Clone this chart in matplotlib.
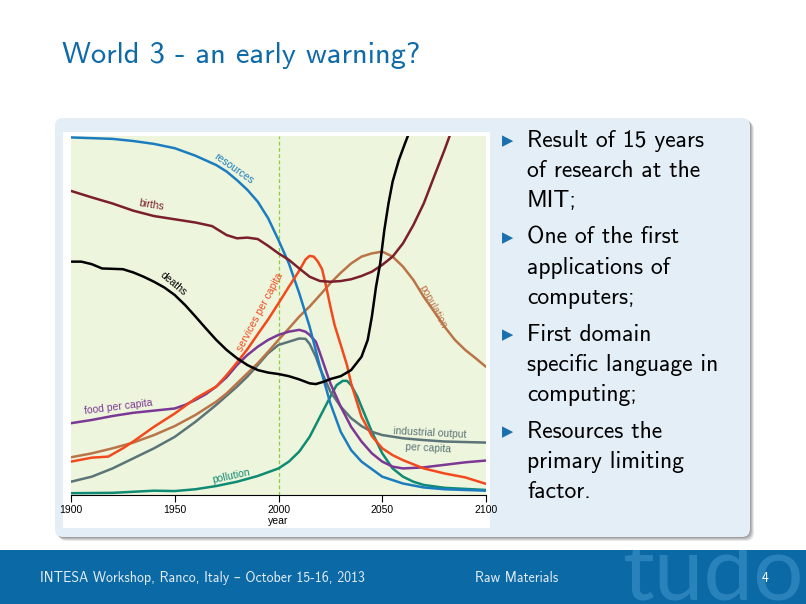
import matplotlib
matplotlib.use("Agg")
import matplotlib.pyplot as plt
from matplotlib.patches import FancyBboxPatch, Rectangle

# ---------------- data (values on 0-100 scale) ----------------
res_years = [1900, 1910, 1920, 1930, 1940, 1950, 1960, 1970, 1975, 1980, 1985, 1990, 1995, 2000,
             2005, 2010, 2015, 2020, 2025, 2030, 2035, 2040, 2050, 2060, 2070, 2080, 2100]
res_vals = [99.6, 99.4, 99.2, 98.6, 97.8, 96.6, 94.5, 91.9, 90.1, 87.7, 85.0, 81.7, 77.1, 71.0,
            64.5, 56.2, 46.9, 35.7, 25.5, 17.6, 12.5, 9.3, 5.1, 3.2, 2.1, 1.6, 1.2]

birth_years = [1900, 1910, 1920, 1930, 1940, 1950, 1960, 1968, 1975, 1980, 1985, 1990, 1995, 2000,
               2005, 2010, 2015, 2020, 2025, 2030, 2035, 2040, 2045, 2050, 2055, 2060, 2065, 2070,
               2075, 2080, 2085]
birth_vals = [84.7, 82.9, 81.2, 79.2, 77.7, 76.8, 75.9, 74.9, 72.4, 71.5, 71.7, 71.3, 69.4, 67.3,
              65.5, 63.1, 60.8, 59.6, 59.4, 59.6, 60.1, 61.0, 62.2, 64.1, 66.4, 70.1, 75.2, 81.2,
              88.7, 96.1, 104.0]

death_years = [1900, 1905, 1910, 1915, 1920, 1925, 1930, 1935, 1940, 1945, 1950, 1955, 1960, 1965,
               1970, 1975, 1980, 1985, 1990, 1995, 2000, 2005, 2010, 2015, 2018, 2022, 2025, 2030,
               2035, 2040, 2043, 2045, 2047, 2049, 2051, 2053, 2055, 2058, 2061, 2065]
death_vals = [65.0, 65.0, 64.3, 63.1, 63.0, 62.9, 62.0, 60.8, 59.4, 57.8, 55.7, 52.9, 49.7, 46.4,
              43.2, 40.4, 38.1, 36.2, 34.8, 34.1, 33.7, 33.1, 32.2, 31.1, 30.9, 31.6, 32.3, 33.1,
              34.8, 38.5, 43.2, 49.7, 58.0, 64.5, 73.8, 81.2, 87.3, 93.3, 98.0, 104.0]

serv_years = [1900, 1910, 1918, 1925, 1930, 1940, 1950, 1960, 1970, 1975, 1980, 1985, 1990, 1995,
              2000, 2005, 2010, 2013, 2015, 2017, 2019, 2021, 2023, 2025, 2027, 2030, 2033, 2035,
              2038, 2040, 2043, 2045, 2050, 2055, 2060, 2070, 2080, 2090, 2100]
serv_vals = [9.3, 10.4, 10.7, 13.0, 14.9, 19.0, 22.7, 26.9, 30.2, 33.4, 36.9, 40.6, 44.8, 48.9,
             53.4, 58.0, 62.5, 65.6, 66.6, 66.4, 65.0, 62.9, 58.0, 52.5, 47.4, 41.8, 36.2, 31.1,
             25.5, 21.8, 18.6, 16.4, 13.0, 11.1, 9.7, 7.4, 6.0, 4.9, 3.1]

pop_years = [1900, 1910, 1920, 1930, 1940, 1950, 1960, 1970, 1975, 1980, 1985, 1990, 1995, 2000,
             2005, 2010, 2015, 2020, 2025, 2030, 2035, 2040, 2045, 2050, 2055, 2060, 2065, 2070,
             2075, 2080, 2085, 2090, 2095, 2100]
pop_vals = [10.5, 11.6, 13.0, 14.6, 16.7, 19.2, 22.3, 26.0, 28.3, 31.1, 33.9, 36.7, 39.9, 43.2,
            46.4, 49.7, 52.5, 55.7, 59.0, 61.9, 64.5, 66.4, 67.3, 67.8, 66.4, 63.6, 59.9, 55.2,
            51.1, 46.9, 43.2, 40.4, 38.1, 35.7]

food_years = [1900, 1910, 1920, 1930, 1940, 1950, 1955, 1960, 1965, 1970, 1975, 1980, 1985, 1990,
              1995, 2000, 2005, 2010, 2013, 2015, 2018, 2020, 2025, 2030, 2035, 2040, 2045, 2050,
              2055, 2060, 2070, 2080, 2090, 2100]
food_vals = [20.0, 20.9, 22.0, 22.9, 23.5, 24.1, 25.1, 26.5, 28.1, 30.2, 32.8, 36.2, 39.0, 41.3,
             43.2, 44.6, 45.5, 46.0, 45.5, 44.6, 42.7, 39.5, 31.1, 24.6, 19.0, 14.9, 11.6, 9.3,
             7.9, 7.4, 7.7, 8.4, 9.1, 9.6]

ind_years = [1900, 1910, 1920, 1930, 1940, 1950, 1960, 1970, 1980, 1985, 1990, 1995, 2000, 2005,
             2010, 2013, 2015, 2018, 2020, 2025, 2030, 2035, 2040, 2045, 2050, 2060, 2070, 2080, 2100]
ind_vals = [3.7, 5.1, 7.4, 10.2, 13.0, 16.2, 20.4, 25.1, 30.2, 33.0, 36.2, 39.5, 41.8, 42.7,
            43.6, 43.5, 42.1, 38.5, 35.3, 28.8, 24.6, 21.4, 19.2, 17.6, 16.7, 15.8, 15.3, 14.9, 14.6]

pol_years = [1900, 1920, 1940, 1950, 1960, 1970, 1980, 1990, 2000, 2005, 2010, 2015, 2020, 2025,
             2028, 2031, 2033, 2035, 2038, 2040, 2043, 2045, 2050, 2055, 2060, 2065, 2070, 2080, 2100]
pol_vals = [0.5, 0.6, 1.2, 1.1, 1.6, 2.5, 3.7, 5.3, 7.4, 9.3, 12.1, 16.2, 21.8, 27.4,
            30.6, 31.8, 31.8, 30.6, 27.4, 24.6, 20.4, 17.6, 11.6, 7.4, 5.1, 3.7, 2.8, 2.0, 1.4]

x_ticks = [1900, 1950, 2000, 2050, 2100]
x_label = "year"
marker_year = 2000

title = "World 3 - an early warning?"
bullets = [
    ["Result of 15 years", "of research at the", "MIT;"],
    ["One of the first", "applications of", "computers;"],
    ["First domain", "specific language in", "computing;"],
    ["Resources the", "primary limiting", "factor."],
]
footer_left = "INTESA Workshop, Ranco, Italy \u2013 October 15-16, 2013"
footer_mid = "Raw Materials"
page_no = "4"
watermark = "tudor"

# ---------------- figure ----------------
W, H = 806, 604
fig = plt.figure(figsize=(W / 100, H / 100), dpi=100)
fig.patch.set_facecolor("white")

bg = fig.add_axes([0, 0, 1, 1])
bg.set_xlim(0, W)
bg.set_ylim(H, 0)
bg.axis("off")

CM = ["cmss10", "DejaVu Sans"]
BLUE = "#0b69a6"

# title
bg.text(62, 63, title, fontsize=22, family=CM, color="#0e6aa8", va="baseline", ha="left")

# block shadow
for i, a in enumerate([0.10, 0.12, 0.15, 0.18]):
    off = 4 - i
    bg.add_patch(FancyBboxPatch((55 + off, 118 + off), 695, 419,
                                boxstyle="round,pad=0,rounding_size=8",
                                fc="#303030", ec="none", alpha=a, zorder=1))
# block
bg.add_patch(FancyBboxPatch((55, 118), 695, 419, boxstyle="round,pad=0,rounding_size=8",
                            fc="#e4eef6", ec="none", zorder=2))
# white panel for the chart
bg.add_patch(Rectangle((63, 132), 427, 396, fc="white", ec="none", zorder=3))

# bullets
line_gap = 30
y0 = 147
for bl in bullets:
    bg.text(502, y0 - 1.5, "\u25B6", fontsize=10.5, family="DejaVu Sans", color="#1a6fae",
            va="baseline", ha="left", zorder=5)
    for j, ln in enumerate(bl):
        bg.text(527, y0 + j * line_gap, ln, fontsize=17, family=CM, color="black",
                va="baseline", ha="left", zorder=5)
    y0 += len(bl) * line_gap + 7

# footer (own axes so the watermark is clipped to the bar)
fax = fig.add_axes([0, 0, 1, 54 / H], zorder=6)
fax.set_xlim(0, W)
fax.set_ylim(H, 550)
fax.axis("off")
fax.add_patch(Rectangle((0, 550), W, 54, fc=BLUE, ec="none", zorder=1))
wm = fax.text(622, 600, watermark, fontsize=64, family="Lato", weight="normal", color="#2a82bb",
              va="baseline", ha="left", zorder=2)
wm.set_clip_box(fax.bbox)
wm.set_clip_on(True)
fax.text(40, 582, footer_left, fontsize=10, family=CM, color="#e2ecf4", va="baseline", zorder=4)
fax.text(475, 582, footer_mid, fontsize=10, family=CM, color="#e2ecf4", va="baseline", zorder=4)
fax.text(762, 582, page_no, fontsize=10, family=CM, color="white", va="baseline", zorder=4)

# ---------------- chart ----------------
ax = fig.add_axes([71 / W, (H - 495) / H, 415 / W, 359 / H], zorder=5)
ax.set_facecolor("#eef5dd")
ax.set_xlim(1900, 2100)
ax.set_ylim(0, 100)
for s in ["top", "right", "left"]:
    ax.spines[s].set_visible(False)
ax.spines["bottom"].set_linewidth(0.8)
ax.set_yticks([])
ax.set_xticks(x_ticks)
ax.tick_params(axis="x", direction="out", length=5, width=0.8, pad=2, labelsize=7.5)
for t in ax.get_xticklabels():
    t.set_family("Liberation Sans")
ax.set_xlabel(x_label, fontsize=7.5, family="Liberation Sans", labelpad=1)

ax.axvline(marker_year, color="#8fcb3c", lw=0.9, ls=(0, (3, 2)), zorder=1)

lw = 1.8
series = [
    (pol_years, pol_vals, "#0f8a73"),
    (ind_years, ind_vals, "#5b7477"),
    (pop_years, pop_vals, "#b97448"),
    (food_years, food_vals, "#7b3894"),
    (res_years, res_vals, "#1b7dbf"),
    (serv_years, serv_vals, "#f2491d"),
    (birth_years, birth_vals, "#7a1f2b"),
    (death_years, death_vals, "#000000"),
]
for xs, ys, c in series:
    ax.plot(xs, ys, color=c, lw=lw, solid_joinstyle="round", solid_capstyle="round", zorder=3)

lab_kw = dict(fontsize=7.5, family="Liberation Sans", ha="center", va="center",
              rotation_mode="anchor", zorder=4)
ax.text(1978.2, 90.8, "resources", color="#1b7dbf", rotation=-35, **lab_kw)
ax.text(1938.9, 80.8, "births", color="#7a1f2b", rotation=-9, **lab_kw)
ax.text(1949.6, 58.8, "deaths", color="#000000", rotation=-40, **lab_kw)
ax.text(1991.2, 50.8, "services per capita", color="#f2491d", rotation=62, **lab_kw)
ax.text(2074.2, 52.5, "population", color="#b97448", rotation=-62, **lab_kw)
ax.text(1922.8, 24.6, "food per capita", color="#7b3894", rotation=7, **lab_kw)
ax.text(2073.0, 17.2, "industrial output", color="#5b7477", rotation=-3, **lab_kw)
ax.text(2072.2, 13.0, "per capita", color="#5b7477", rotation=-3, **lab_kw)
ax.text(1977.1, 5.2, "pollution", color="#0f8a73", rotation=12, **lab_kw)

fig.savefig("out.png", dpi=100)
